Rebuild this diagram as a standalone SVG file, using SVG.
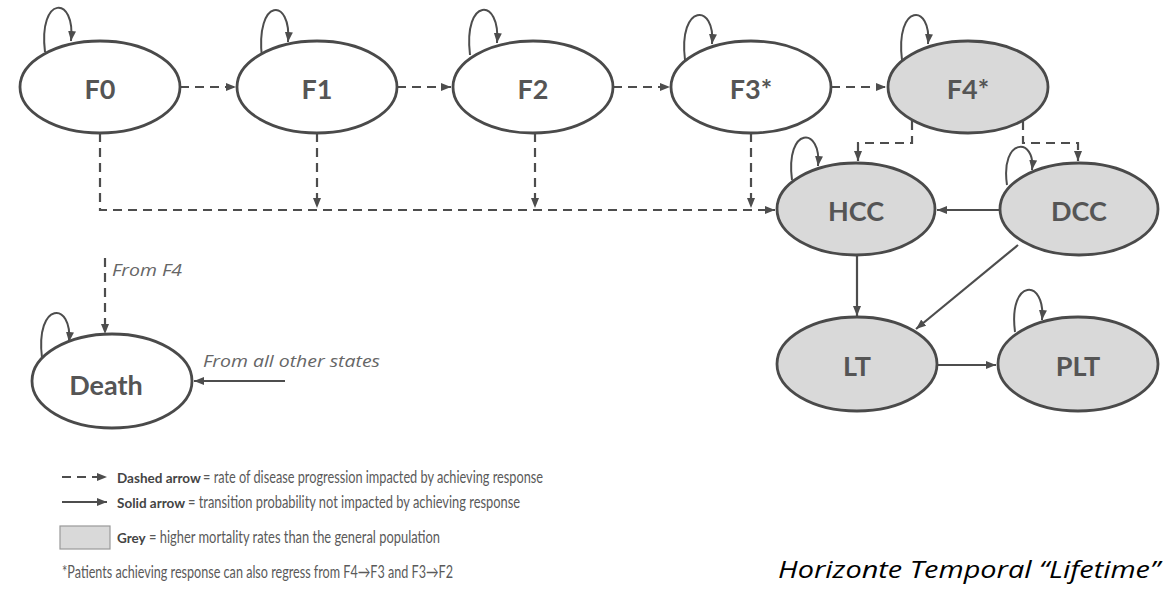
<svg xmlns="http://www.w3.org/2000/svg" width="1166" height="590" viewBox="0 0 1166 590">
<style>
.node{stroke:#4a4a4a;stroke-width:2.8}
.white{fill:#ffffff}
.grey{fill:#d9d9d9}
.lbl{font-family:Lato,"Open Sans",sans-serif;font-weight:700;font-size:27px;fill:#555;text-anchor:middle}
.dash{fill:none;stroke:#4d4d4d;stroke-width:2.2;stroke-dasharray:9 6}
.solid{fill:none;stroke:#4d4d4d;stroke-width:2.2}
.loop{fill:none;stroke:#4d4d4d;stroke-width:2}
.it{font-family:"Open Sans",sans-serif;font-style:italic;fill:#666}
.leg{font-family:Lato,"Open Sans",sans-serif;font-size:17px;fill:#5a5a5a}
.legb{font-family:Lato,"Open Sans",sans-serif;font-size:13.5px;font-weight:700;fill:#444}
</style>
<defs>
<marker id="ah" markerUnits="userSpaceOnUse" markerWidth="10" markerHeight="8" refX="10" refY="4" orient="auto">
<path d="M0,0 L10,4 L0,8 z" fill="#4d4d4d"/>
</marker>
</defs>
<rect width="1166" height="590" fill="#ffffff"/>

<g id="connectors">
<path class="dash" d="M180,87 H236" marker-end="url(#ah)"/>
<path class="dash" d="M397,87 H451" marker-end="url(#ah)"/>
<path class="dash" d="M613,87 H670" marker-end="url(#ah)"/>
<path class="dash" d="M831,87 H886" marker-end="url(#ah)"/>
<path class="dash" d="M100,133 V210 H775" marker-end="url(#ah)"/>
<path class="dash" d="M317,133 V208" marker-end="url(#ah)"/>
<path class="dash" d="M535,133 V208" marker-end="url(#ah)"/>
<path class="dash" d="M751,133 V208" marker-end="url(#ah)"/>
<path class="dash" d="M912,121 V143 H858 V161" marker-end="url(#ah)"/>
<path class="dash" d="M1023,121 V143 H1078 V161" marker-end="url(#ah)"/>
<path class="solid" d="M1000,210 H937" marker-end="url(#ah)"/>
<path class="solid" d="M857,255 V316" marker-end="url(#ah)"/>
<path class="solid" d="M1018,245 L916,329" marker-end="url(#ah)"/>
<path class="solid" d="M937,365 H996" marker-end="url(#ah)"/>
<path class="solid" d="M285,381 H194" marker-end="url(#ah)"/>
<path class="dash" d="M105,258 V334" marker-end="url(#ah)"/>
<path class="loop" d="M45,52 C38,-5 76,-5 71,41" marker-end="url(#ah)"/>
<path class="loop" d="M262,58 C255,-3 292,-3 288,42" marker-end="url(#ah)"/>
<path class="loop" d="M470,55 C463,-3 501,-3 497,43" marker-end="url(#ah)"/>
<path class="loop" d="M685,60 C678,3 716,3 712,44" marker-end="url(#ah)"/>
<path class="loop" d="M902,60 C895,3 932,3 928,44" marker-end="url(#ah)"/>
<path class="loop" d="M792,180 C785,126 822,126 818,166" marker-end="url(#ah)"/>
<path class="loop" d="M1007,185 C1000,137 1036,137 1032,170" marker-end="url(#ah)"/>
<path class="loop" d="M1015,332 C1008,278 1046,278 1042,320" marker-end="url(#ah)"/>
<path class="loop" d="M42,358 C35,301 73,301 69,342" marker-end="url(#ah)"/>
</g>

<g id="F0"><ellipse class="node white" cx="100" cy="87" rx="80" ry="46"/><text class="lbl" x="100" y="99">F0</text></g>
<g id="F1"><ellipse class="node white" cx="317" cy="87" rx="80" ry="46"/><text class="lbl" x="317" y="99">F1</text></g>
<g id="F2"><ellipse class="node white" cx="533" cy="87" rx="80" ry="46"/><text class="lbl" x="533" y="99">F2</text></g>
<g id="F3"><ellipse class="node white" cx="751" cy="87" rx="80" ry="46"/><text class="lbl" x="751" y="99">F3*</text></g>
<g id="F4"><ellipse class="node grey" cx="968" cy="87" rx="80" ry="46"/><text class="lbl" x="968" y="99">F4*</text></g>
<g id="HCC"><ellipse class="node grey" cx="856" cy="209" rx="79" ry="46"/><text class="lbl" x="856" y="221">HCC</text></g>
<g id="DCC"><ellipse class="node grey" cx="1079" cy="209" rx="79" ry="46"/><text class="lbl" x="1079" y="221">DCC</text></g>
<g id="LT"><ellipse class="node grey" cx="857" cy="364" rx="80" ry="47"/><text class="lbl" x="857" y="376">LT</text></g>
<g id="PLT"><ellipse class="node grey" cx="1078" cy="364" rx="80" ry="47"/><text class="lbl" x="1078" y="376">PLT</text></g>
<g id="Death"><ellipse class="node white" cx="112" cy="381" rx="80" ry="47"/><text class="lbl" x="106" y="395" font-size="29">Death</text></g>

<g id="labels">
<text class="it" x="112" y="276" font-size="17" textLength="70" lengthAdjust="spacingAndGlyphs">From F4</text>
<text class="it" x="203" y="367" font-size="17" textLength="177" lengthAdjust="spacingAndGlyphs">From all other states</text>
</g>

<g id="legend">
<path class="dash" d="M62,477 H107" stroke-dasharray="8 5" marker-end="url(#ah)"/>
<path class="solid" d="M62,502 H107" marker-end="url(#ah)"/>
<rect x="60" y="526" width="50" height="23" fill="#d9d9d9" stroke="#999" stroke-width="1.2"/>
<text class="legb" x="117" y="483">Dashed arrow</text>
<text class="leg" x="203" y="483" textLength="340" lengthAdjust="spacingAndGlyphs">= rate of disease progression impacted by achieving response</text>
<text class="legb" x="117" y="508">Solid arrow</text>
<text class="leg" x="188" y="508" textLength="332" lengthAdjust="spacingAndGlyphs">= transition probability not impacted by achieving response</text>
<text class="legb" x="117" y="543">Grey</text>
<text class="leg" x="149" y="543" textLength="291" lengthAdjust="spacingAndGlyphs">= higher mortality rates than the general population</text>
<text class="leg" x="62" y="578" textLength="391" lengthAdjust="spacingAndGlyphs">*Patients achieving response can also regress from F4→F3 and F3→F2</text>
</g>

<text x="778" y="578" font-family="'Open Sans',Lato,sans-serif" font-style="italic" font-size="24" fill="#000" textLength="382" lengthAdjust="spacingAndGlyphs">Horizonte Temporal “Lifetime”</text>
</svg>
